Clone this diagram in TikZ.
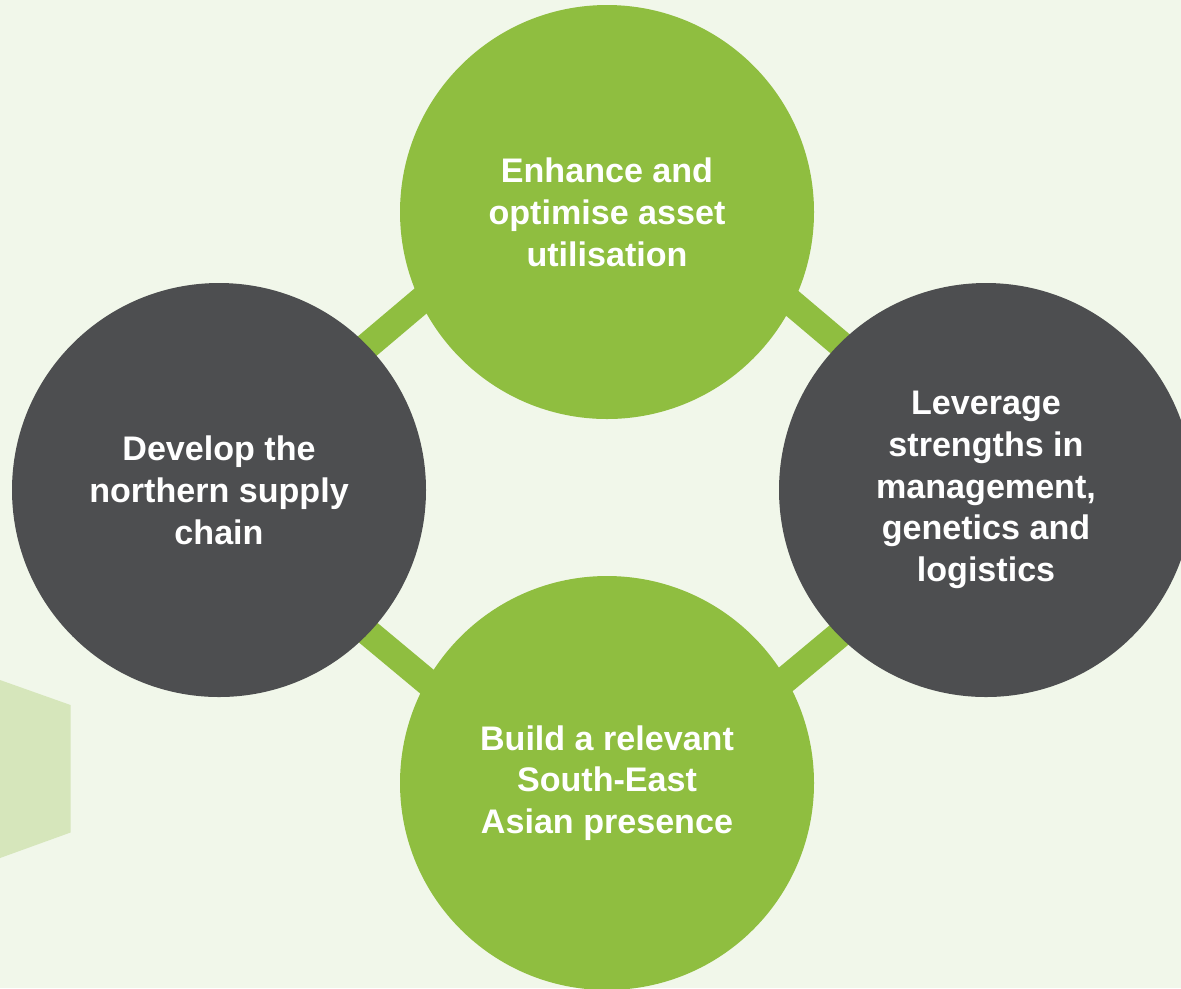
\documentclass[tikz,border=0pt]{standalone}
\usepackage{fontspec}
\setmainfont{Liberation Sans}

\definecolor{leaf}{RGB}{143,190,64}
\definecolor{slate}{RGB}{77,78,80}
\definecolor{paper}{RGB}{241,247,234}
\definecolor{pale}{RGB}{214,230,187}

\begin{document}
\begin{tikzpicture}[
    goal/.style={shape=circle, minimum size=8.28cm, inner sep=0pt, align=center, text=white,
                 font=\fontsize{19.4}{23.8}\selectfont\bfseries},
    link/.style={draw=leaf, line width=15.3pt}
  ]
  \fill[paper] (0,0) rectangle (23.62,-19.76);
  \useasboundingbox (0,0) rectangle (23.62,-19.76);
  % pale shape at the left edge
  \fill[pale] (0,-13.6) -- (1.41,-14.1) -- (1.41,-16.65) -- (0,-17.16) -- cycle;

  % corners of the green frame behind the circles
  \coordinate (kL) at (3.94,-9.8);
  \coordinate (kT) at (12.1,-2.9);
  \coordinate (kR) at (20.26,-9.8);
  \coordinate (kB) at (12.1,-16.6);
  \draw[link] (kL) -- (kT) -- (kR) -- (kB) -- cycle;

  \node[goal, fill=leaf] (A) at (12.14,-4.24) {Enhance and\\optimise asset\\utilisation};
  \node[goal, fill=slate] (B) at (4.38,-9.8) {Develop the\\northern supply\\chain};
  \node[goal, fill=slate] (C) at (19.72,-9.8) {Leverage\\strengths in\\management,\\genetics and\\logistics};
  \node[goal, fill=leaf] (D) at (12.14,-15.66) {Build a relevant\\South-East\\Asian presence};
\end{tikzpicture}
\end{document}
